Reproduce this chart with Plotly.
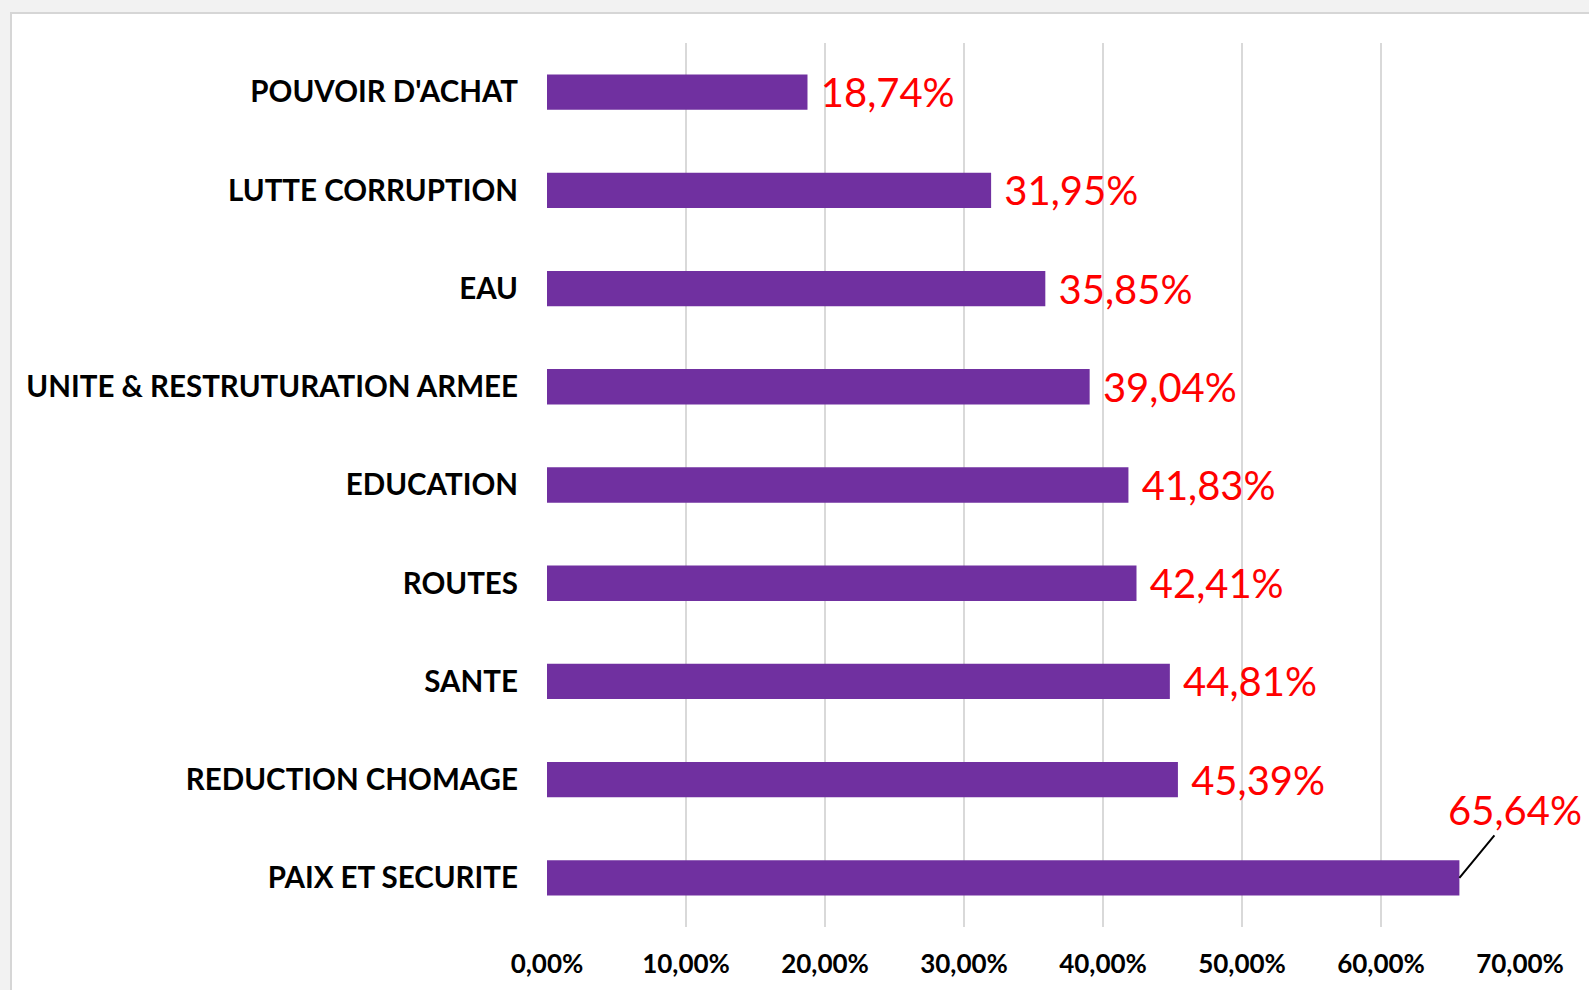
import plotly.graph_objects as go

# categories from top to bottom, as in the reference
categories = ["POUVOIR D'ACHAT", "LUTTE CORRUPTION", "EAU", "UNITE & RESTRUTURATION ARMEE",
              "EDUCATION", "ROUTES", "SANTE", "REDUCTION CHOMAGE", "PAIX ET SECURITE"]
shares = [0.1874, 0.3195, 0.3585, 0.3904, 0.4183, 0.4241, 0.4481, 0.4539, 0.6564]
x_ticks = [0, 0.1, 0.2, 0.3, 0.4, 0.5, 0.6, 0.7]

W, H = 1589, 990
L, R, T, B = 547, 69, 43, 63
pw, ph = W - L - R, H - T - B

labels = ["\u00a0%{x:.2%}"] * (len(shares) - 1) + [""]
red_font = dict(family="Lato", size=40, color='#FF0000')

fig = go.Figure(go.Bar(
    x=shares, y=categories, orientation='h',
    marker=dict(color='#7030A0', line=dict(width=0)),
    width=0.36,
    texttemplate=labels, textposition='outside', cliponaxis=False,
    constraintext='none', textfont=red_font,
    hoverinfo='skip'))

# last label sits above the bar with a leader line
fig.add_annotation(x=shares[-1], y=categories[-1], text="65,64%",
                   showarrow=True, arrowhead=0, arrowwidth=2, arrowcolor='black',
                   ax=56, ay=-68, standoff=0, font=red_font)

# screenshot frame (grey strip at top and left)
def px(xp):
    return (xp - L) / pw

def py(yp):
    return (H - B - yp) / ph

fig.add_shape(type='rect', xref='paper', yref='paper', x0=px(0), x1=px(W), y0=py(13), y1=py(0),
              fillcolor='#f2f2f2', line=dict(width=0), layer='below')
fig.add_shape(type='line', xref='paper', yref='paper', x0=px(10), x1=px(W), y0=py(13), y1=py(13),
              line=dict(color='#d6d6d6', width=2))
fig.add_shape(type='rect', xref='paper', yref='paper', x0=px(0), x1=px(10), y0=py(H), y1=py(0),
              fillcolor='#f2f2f2', line=dict(width=0), layer='below')
fig.add_shape(type='line', xref='paper', yref='paper', x0=px(11), x1=px(11), y0=py(H), y1=py(13),
              line=dict(color='#d6d6d6', width=2))

fig.update_layout(
    width=W, height=H,
    margin=dict(l=L, r=R, t=T, b=B, autoexpand=False),
    plot_bgcolor='white', paper_bgcolor='white',
    separators=', ',
    showlegend=False,
    font=dict(family="Lato", color='black'))
fig.update_xaxes(range=[0, 0.7], tickvals=x_ticks, tickformat='.2%',
                 showgrid=True, gridcolor='#d9d9d9', gridwidth=2,
                 zeroline=False, showline=False, ticks='', automargin=False,
                 ticklabelstandoff=19,
                 tickfont=dict(family="Lato", size=26, color='black', weight='bold'))
fig.update_yaxes(range=[len(categories) - 0.5, -0.5], showgrid=False, showline=False,
                 zeroline=False, ticks='', automargin=False, ticklabelstandoff=28,
                 tickfont=dict(family="Lato", size=29.5, color='black', weight='bold'))

fig.write_html("out.html", config={'displayModeBar': False},
               post_script="document.body.style.margin='0';")
